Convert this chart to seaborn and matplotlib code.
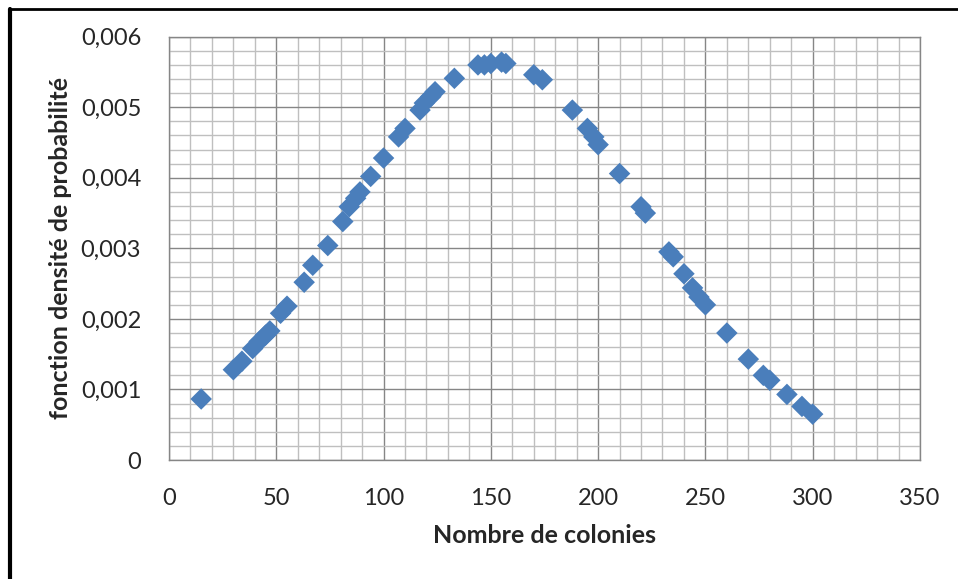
import matplotlib
matplotlib.use("Agg")
import matplotlib.pyplot as plt
from matplotlib.ticker import MultipleLocator, FuncFormatter
from matplotlib.lines import Line2D
import seaborn as sns
import pandas as pd

# valeurs
colonies = [15, 30, 34, 39, 42, 45, 47, 52, 55, 63, 67, 74, 81, 84, 87, 89, 94, 100,
            107, 110, 117, 119, 122, 124, 133, 144, 147, 150, 155, 157, 170, 174,
            188, 195, 198, 200, 210, 220, 222, 233, 235, 240, 244, 247, 250, 260,
            270, 277, 280, 288, 295, 300]
densite = [0.000865, 0.00128, 0.00140, 0.00158, 0.00168, 0.00177, 0.00183, 0.00208,
           0.00218, 0.00252, 0.00276, 0.00304, 0.00338, 0.00359, 0.00371, 0.00380,
           0.00402, 0.00428, 0.00458, 0.00470, 0.00496, 0.00506, 0.00515, 0.00522,
           0.00541, 0.00560, 0.00560, 0.00562, 0.00564, 0.00562, 0.00546, 0.00539,
           0.00496, 0.00470, 0.00458, 0.00447, 0.00406, 0.00359, 0.00350, 0.00295,
           0.00288, 0.00264, 0.00244, 0.00231, 0.00220, 0.00180, 0.00143, 0.00120,
           0.00113, 0.00093, 0.00076, 0.00065]

data = pd.DataFrame({'Nombre de colonies': colonies, 'densite': densite})

sns.set_style("white")
plt.rcParams['font.family'] = ['Lato', 'DejaVu Sans']

fig = plt.figure(figsize=(9.58, 5.79), dpi=100)
ax = fig.add_axes([0.1764, 0.2055, 0.7839, 0.7311])

ax.set_axisbelow(True)
sns.scatterplot(data=data, x='Nombre de colonies', y='densite', marker='D', s=120,
                color='#4A7EBB', edgecolor='none', ax=ax, zorder=3)

ax.set_xlim(0, 350)
ax.set_ylim(0, 0.006)
ax.xaxis.set_major_locator(MultipleLocator(50))
ax.xaxis.set_minor_locator(MultipleLocator(10))
ax.yaxis.set_major_locator(MultipleLocator(0.001))
ax.yaxis.set_minor_locator(MultipleLocator(0.0002))
ax.yaxis.set_major_formatter(FuncFormatter(lambda v, p: '0' if abs(v) < 1e-9 else ('%.3f' % v).replace('.', ',')))
ax.xaxis.set_major_formatter(FuncFormatter(lambda v, p: '%d' % v))

ax.grid(which='major', color='#868686', linewidth=1.0)
ax.grid(which='minor', color='#BFBFBF', linewidth=1.0)
for sp in ax.spines.values():
    sp.set_color('#868686')
    sp.set_linewidth(1.0)

ax.tick_params(axis='both', which='major', direction='out', length=6, width=1,
               color='#868686', labelsize=17)
ax.tick_params(axis='y', pad=14)
ax.tick_params(axis='x', pad=14)
ax.tick_params(axis='both', which='minor', length=0)

ax.set_xlabel('Nombre de colonies', fontsize=18, fontweight='bold', labelpad=11)
ax.set_ylabel('fonction densité de probabilité', fontsize=18, fontweight='bold', labelpad=6)

# cadre noir autour du graphique
fig.add_artist(Line2D([0.0105, 1.0], [0.985, 0.985], transform=fig.transFigure, color='black', linewidth=2))
fig.add_artist(Line2D([0.0105, 0.0105], [0.0, 0.985], transform=fig.transFigure, color='black', linewidth=3))

fig.savefig('out.png', dpi=100)
